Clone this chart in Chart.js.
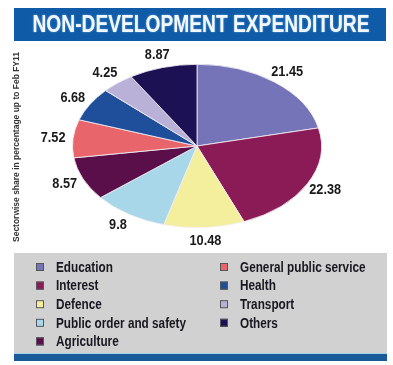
<!DOCTYPE html>
<html>
<head>
<meta charset="utf-8">
<script src="https://cdn.jsdelivr.net/npm/chart.js@4.4.1/dist/chart.umd.min.js"></script>
<style>
  html, body { margin: 0; padding: 0; background: #fff; }
  #wrap { width: 393px; height: 365px; position: relative; }
</style>
</head>
<body>
<div id="wrap"><canvas id="chart1" width="393" height="365"></canvas></div>
<script>
//chart data
const titleText = 'NON-DEVELOPMENT EXPENDITURE'
const sideText = 'Sectorwise share in percentage up to Feb FY11'
const sectors = ['Education', 'Interest', 'Defence', 'Public order and safety', 'Agriculture',
    'General public service', 'Health', 'Transport', 'Others']
const shares = [21.45, 22.38, 10.48, 9.8, 8.57, 7.52, 6.68, 4.25, 8.87]
const colors = ['#7674b9', '#8b1b56', '#f4ef9c', '#a9d7ea', '#5a0f4b',
    '#e8666b', '#1f4f9b', '#b9b1d8', '#1c1152']

//squash factor to turn the pie into a flat ellipse
const squash = 0.656

//helper: draw horizontally condensed text
condText = function(ctx, text, x, y, sx, align) {
    ctx.save()
    ctx.translate(x, y)
    ctx.scale(sx, 1)
    ctx.textAlign = align || 'center'
    ctx.fillText(text, 0, 0)
    ctx.restore()
}

//background bits: title banner, legend box, bottom bar
const framePlugin = {
    id: 'frame',
    beforeDraw(chart) {
        const ctx = chart.ctx
        ctx.save()
        ctx.fillStyle = '#0f5ba8'
        ctx.fillRect(14, 8, 372, 33)
        ctx.fillStyle = '#d1d1d1'
        ctx.fillRect(14, 253, 373, 100)
        ctx.fillStyle = '#a8d4ea'
        ctx.fillRect(14, 353, 373, 1)
        ctx.fillStyle = '#1a5a9b'
        ctx.fillRect(14, 354, 373, 7)

        //title
        ctx.font = 'bold 24px "Liberation Sans", Arial, sans-serif'
        ctx.fillStyle = '#f2f8ff'
        ctx.textAlign = 'center'
        ctx.textBaseline = 'middle'
        ctx.shadowColor = 'rgba(200,230,255,0.6)'
        ctx.shadowBlur = 2
        ctx.fillText(titleText, 201, 25, 337)
        ctx.restore()

        //rotated side caption
        ctx.save()
        ctx.translate(17, 147)
        ctx.rotate(-Math.PI / 2)
        ctx.font = 'bold 9px "Liberation Sans", Arial, sans-serif'
        ctx.fillStyle = '#333'
        ctx.textAlign = 'center'
        ctx.textBaseline = 'middle'
        ctx.fillText(sideText, 0, 0, 190)
        ctx.restore()
    }
}

//squash the pie vertically
const ellipsePlugin = {
    id: 'ellipse',
    beforeDatasetsDraw(chart) {
        const arc = chart.getDatasetMeta(0).data[0]
        const ctx = chart.ctx
        ctx.save()
        ctx.translate(arc.x, arc.y)
        ctx.scale(1, squash)
        ctx.translate(-arc.x, -arc.y)
    },
    afterDatasetsDraw(chart) {
        chart.ctx.restore()
    }
}

//value labels round the pie + legend
const labelPlugin = {
    id: 'labels',
    afterDraw(chart) {
        const ctx = chart.ctx
        const meta = chart.getDatasetMeta(0)
        ctx.save()
        ctx.font = 'bold 15px "Liberation Sans", Arial, sans-serif'
        ctx.fillStyle = '#1a1a1a'
        ctx.textBaseline = 'middle'
        meta.data.forEach((arc, i) => {
            const mid = (arc.startAngle + arc.endAngle) / 2
            const lx = arc.x + (arc.outerRadius + 20) * Math.cos(mid)
            const ly = arc.y + (arc.outerRadius * squash + 13) * Math.sin(mid)
            condText(ctx, String(chart.data.datasets[0].data[i]), lx, ly, 0.85)
        })

        //legend in two columns
        const perCol = 5
        ctx.font = 'bold 14px "Liberation Sans", Arial, sans-serif'
        sectors.forEach((name, i) => {
            const col = Math.floor(i / perCol)
            const row = i % perCol
            const bx = col == 0 ? 36 : 220
            const by = 267 + row * 18.6
            ctx.fillStyle = colors[i]
            ctx.fillRect(bx, by - 4, 8, 8)
            ctx.strokeStyle = '#555'
            ctx.lineWidth = 1
            ctx.strokeRect(bx + 0.5, by - 3.5, 7, 7)
            ctx.fillStyle = '#17171f'
            condText(ctx, name, bx + 20, by + 1, 0.84, 'left')
        })
        ctx.restore()
    }
}

//setup chart
const data = {
    labels: sectors,
    datasets: [{
        data: shares,
        backgroundColor: colors,
        borderColor: '#f3eef3',
        borderWidth: 1,
        clip: false
    }]
}

//config chart
const config = {
    type: 'pie',
    data: data,
    options: {
        responsive: false,
        animation: false,
        layout: {
            padding: { left: 72, right: 71, top: 21, bottom: 94 }
        },
        plugins: {
            legend: { display: false },
            tooltip: { enabled: false }
        }
    },
    plugins: [framePlugin, ellipsePlugin, labelPlugin]
}

//render chart
const Chart1 = new Chart(document.getElementById('chart1'), config)
</script>
</body>
</html>
